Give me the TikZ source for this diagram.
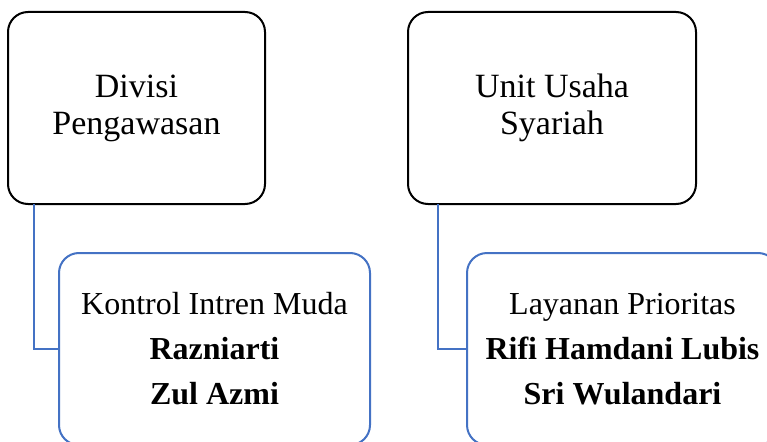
\documentclass[tikz,border=0pt]{standalone}
\usepackage{fontspec}
\setmainfont{Liberation Serif}
\usepackage{tikz}
\usetikzlibrary{positioning}
\definecolor{mydark}{RGB}{0,0,0}
\definecolor{myblue}{RGB}{68,114,196}
\tikzset{
  headbox/.style={rectangle, draw=mydark, fill=white,
    minimum height=192pt, align=center, inner sep=0pt, outer sep=0pt,
    font=\fontsize{34}{37}\selectfont, rounded corners=20pt, line width=2pt},
  staffbox/.style={rectangle, draw=myblue, fill=white,
    minimum width=311pt, minimum height=192pt, align=center,
    inner sep=0pt, outer sep=0pt,
    font=\fontsize{32}{45}\selectfont, rounded corners=20pt, line width=2pt},
  link/.style={line width=2pt, color=myblue}
}
\begin{document}
\begin{tikzpicture}
  \useasboundingbox (0,0) rectangle (767pt,-441pt);
  % Head units
  \node[headbox, minimum width=257pt, anchor=north west] (divisi) at (8pt,-12pt) {Divisi\\Pengawasan};
  \node[headbox, minimum width=288pt, right=143pt of divisi.north east, anchor=north west] (unit) {Unit Usaha\\Syariah};

  % Staff boxes
  \node[staffbox, below=49pt of divisi.south west, anchor=north west, xshift=51pt] (kontrol) {Kontrol Intren Muda\\\textbf{Razniarti}\\\textbf{Zul Azmi}};
  \node[staffbox, below=49pt of unit.south west, anchor=north west, xshift=59pt] (layanan) {Layanan Prioritas\\\textbf{Rifi Hamdani Lubis}\\\textbf{Sri Wulandari}};

  % Connectors
  \draw[link] ([xshift=26pt]divisi.south west) |- (kontrol.west);
  \draw[link] ([xshift=30pt]unit.south west) |- (layanan.west);
\end{tikzpicture}
\end{document}
